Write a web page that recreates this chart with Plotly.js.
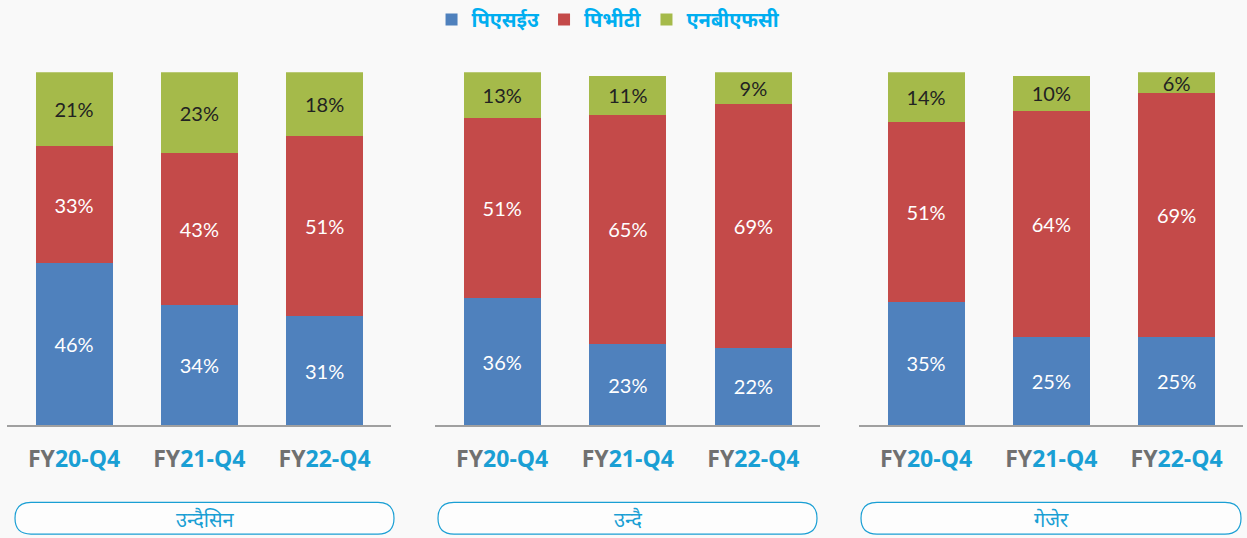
<!DOCTYPE html>
<html>
<head>
<meta charset="utf-8">
<script src="https://cdn.plot.ly/plotly-3.0.1.min.js"></script>
<style>html,body{margin:0;padding:0;background:#f9f9f9;}#chart{width:1247px;height:538px;}</style>
</head>
<body>
<div id="chart"></div>
<script>
// ---- data ----
const categories = ['FY20-Q4', 'FY21-Q4', 'FY22-Q4'];
const tickFY = ['FY', 'FY', 'FY'];
const tickRest = ['20-Q4', '21-Q4', '22-Q4'];
const seriesNames = ['पिएसईउ', 'पिभीटी', 'एनबीएफसी'];
const panelNames = ['उन्दैसिन', 'उन्दै', 'गेजेर'];

const psu1 = [46, 34, 31];
const pvt1 = [33, 43, 51];
const nbfc1 = [21, 23, 18];

const psu2 = [36, 23, 22];
const pvt2 = [51, 65, 69];
const nbfc2 = [13, 11, 9];

const psu3 = [35, 25, 25];
const pvt3 = [51, 64, 69];
const nbfc3 = [14, 10, 6];

// ---- styling ----
const W = 1247, H = 538;
const colors = ['#4f81bd', '#c44a49', '#a5ba4a'];
const textColors = ['#ffffff', '#ffffff', '#222222'];
const labelFont = 'Lato, "Open Sans", sans-serif';
const devFont = '"Noto Sans", "Noto Sans Devanagari", sans-serif';
const blueText = '#1a9fd4';

const panelData = [[psu1, pvt1, nbfc1], [psu2, pvt2, nbfc2], [psu3, pvt3, nbfc3]];
const xDomPx = [[7, 391], [435, 820], [859, 1243]];
const boxPx = [[15, 394], [438, 817], [861, 1241]];
const yTopPx = 67, yBotPx = 424;

const traces = [];
panelData.forEach((series, p) => {
  series.forEach((vals, s) => {
    traces.push({
      type: 'bar',
      x: categories,
      y: vals,
      name: seriesNames[s],
      legendgroup: seriesNames[s],
      showlegend: p === 0,
      xaxis: p === 0 ? 'x' : 'x' + (p + 1),
      yaxis: p === 0 ? 'y' : 'y' + (p + 1),
      marker: {color: colors[s], line: {width: 0}},
      width: 0.615,
      text: vals.map(v => v + '%'),
      textposition: 'inside',
      insidetextanchor: 'middle',
      constraintext: 'none',
      textangle: 0,
      textfont: {family: labelFont, size: 20, color: textColors[s]},
      hoverinfo: 'skip'
    });
  });
});

const tickText = tickFY.map((f, i) =>
  '<span style="color:#707070">' + f + '</span><span style="color:' + blueText + '">' + tickRest[i] + '</span>');

const layout = {
  width: W, height: H,
  margin: {l: 0, r: 0, t: 0, b: 0},
  paper_bgcolor: '#f9f9f9',
  plot_bgcolor: 'rgba(0,0,0,0)',
  barmode: 'stack',
  bargap: 0,
  showlegend: true,
  legend: {
    orientation: 'h',
    x: 0.488, xanchor: 'center',
    y: 1.012, yanchor: 'top',
    font: {family: devFont, size: 20, color: '#00aef0', weight: 'bold'},
    itemsizing: 'constant',
    itemwidth: 30,
    traceorder: 'normal',
    bgcolor: 'rgba(0,0,0,0)'
  },
  shapes: [],
  annotations: []
};

xDomPx.forEach((d, p) => {
  const xa = p === 0 ? 'xaxis' : 'xaxis' + (p + 1);
  const ya = p === 0 ? 'yaxis' : 'yaxis' + (p + 1);
  layout[xa] = {
    domain: [d[0] / W, d[1] / W],
    anchor: p === 0 ? 'y' : 'y' + (p + 1),
    type: 'category',
    range: [-0.535, 2.53],
    tickvals: categories,
    ticktext: tickText,
    ticks: '',
    ticklabelstandoff: 12,
    tickfont: {family: '"Open Sans", sans-serif', size: 23, weight: 'bold', color: '#707070'},
    showline: true, linecolor: '#a0a0a0', linewidth: 2,
    showgrid: false, zeroline: false, fixedrange: true
  };
  layout[ya] = {
    domain: [(H - yBotPx) / H, (H - yTopPx) / H],
    anchor: p === 0 ? 'x' : 'x' + (p + 1),
    range: [0, 100],
    visible: false, showgrid: false, zeroline: false, fixedrange: true
  };
});

// rounded boxes with panel names
boxPx.forEach((b, p) => {
  const x0 = b[0], x1 = b[1], y0 = 502, y1 = 534, r = 16;
  const X = v => (v / W).toFixed(5);
  const Y = v => ((H - v) / H).toFixed(5);
  const path = 'M' + X(x0 + r) + ',' + Y(y0) +
    ' L' + X(x1 - r) + ',' + Y(y0) +
    ' Q' + X(x1) + ',' + Y(y0) + ' ' + X(x1) + ',' + Y((y0 + y1) / 2) +
    ' Q' + X(x1) + ',' + Y(y1) + ' ' + X(x1 - r) + ',' + Y(y1) +
    ' L' + X(x0 + r) + ',' + Y(y1) +
    ' Q' + X(x0) + ',' + Y(y1) + ' ' + X(x0) + ',' + Y((y0 + y1) / 2) +
    ' Q' + X(x0) + ',' + Y(y0) + ' ' + X(x0 + r) + ',' + Y(y0) + ' Z';
  layout.shapes.push({
    type: 'path', xref: 'paper', yref: 'paper', path: path,
    line: {color: '#1a9fd4', width: 1.2}, fillcolor: 'rgba(255,255,255,0.6)', layer: 'below'
  });
  layout.annotations.push({
    xref: 'paper', yref: 'paper',
    x: (x0 + x1) / 2 / W, y: (H - 519) / H,
    xanchor: 'center', yanchor: 'middle',
    text: panelNames[p], showarrow: false,
    font: {family: devFont, size: 20, color: '#1a9fd4'}
  });
});

Plotly.newPlot('chart', traces, layout, {displayModeBar: false, staticPlot: true});
</script>
</body>
</html>
